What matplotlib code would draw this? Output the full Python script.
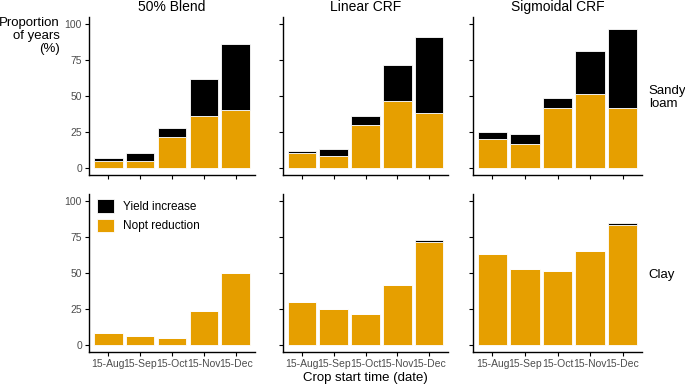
import matplotlib.pyplot as plt
import numpy as np

plt.rcParams['font.family'] = ['Liberation Sans', 'DejaVu Sans']

dates = ['15-Aug', '15-Sep', '15-Oct', '15-Nov', '15-Dec']
models = ['50% Blend', 'Linear CRF', 'Sigmoidal CRF']
soils = ['Sandy\nloam', 'Clay']

# orange part (Nopt reduction) and total height (with yield increase on top)
nopt = {
    ('Sandy\nloam', '50% Blend'): [5, 5, 21.6, 36.4, 40],
    ('Sandy\nloam', 'Linear CRF'): [10, 8.4, 30, 46.6, 38],
    ('Sandy\nloam', 'Sigmoidal CRF'): [20, 16.7, 41.5, 51.5, 41.5],
    ('Clay', '50% Blend'): [8.2, 6.3, 4.9, 23.3, 50],
    ('Clay', 'Linear CRF'): [29.8, 24.9, 21.4, 41.5, 71.6],
    ('Clay', 'Sigmoidal CRF'): [63.2, 53.1, 51.5, 65, 83.4],
}
total = {
    ('Sandy\nloam', '50% Blend'): [6.5, 10, 28, 61.5, 86.5],
    ('Sandy\nloam', 'Linear CRF'): [11.6, 13.2, 36.4, 71.5, 91.4],
    ('Sandy\nloam', 'Sigmoidal CRF'): [24.8, 23.2, 48.3, 81.4, 96.3],
    ('Clay', '50% Blend'): [8.2, 6.3, 4.9, 23.3, 50],
    ('Clay', 'Linear CRF'): [29.8, 24.9, 21.4, 41.5, 73.2],
    ('Clay', 'Sigmoidal CRF'): [63.2, 53.1, 51.5, 65, 85.1],
}

orange = '#E69F00'
grey = '#4D4D4D'

fig = plt.figure(figsize=(6.85, 3.85), dpi=100)
W, H = 685, 385
lefts = [89, 283, 473]
rights = [255, 448, 642]
tops = [17, 194]
bottoms = [175, 352]

x = np.arange(1, 6)
for r, soil in enumerate(soils):
    for c, model in enumerate(models):
        ax = fig.add_axes([lefts[c] / W, 1 - bottoms[r] / H,
                           (rights[c] - lefts[c]) / W, (bottoms[r] - tops[r]) / H])
        lo = np.array(nopt[(soil, model)])
        hi = np.array(total[(soil, model)])
        ax.bar(x, lo, width=0.9, color=orange, edgecolor='white', linewidth=0.6,
               label='Nopt reduction')
        ax.bar(x, hi - lo, bottom=lo, width=0.9, color='black', edgecolor='white',
               linewidth=0.6, label='Yield increase')
        ax.set_xlim(0.4, 5.6)
        ax.set_ylim(-5, 105)
        ax.set_yticks([0, 25, 50, 75, 100])
        ax.set_xticks(x)
        for s in ['top', 'right']:
            ax.spines[s].set_visible(False)
        for s in ['left', 'bottom']:
            ax.spines[s].set_linewidth(1.0)
        ax.tick_params(length=3, width=0.8, colors='black', labelcolor=grey,
                       labelsize=7.5, pad=2)
        if r == 0:
            ax.set_xticklabels([])
            ax.set_title(model, fontsize=10, pad=4)
        else:
            ax.set_xticklabels(dates)
        if c > 0:
            ax.set_yticklabels([])
        if c == 2:
            ax.text(1.04, 0.49, soil, transform=ax.transAxes, fontsize=9.5,
                    ha='left', va='center', linespacing=1.1)
        if r == 1 and c == 0:
            h, l = ax.get_legend_handles_labels()
            ax.legend(h[::-1], l[::-1], loc='upper left', frameon=False,
                      fontsize=8.5, handlelength=1.4, handleheight=1.4,
                      bbox_to_anchor=(0.0, 1.02), borderaxespad=0.3)
        if r == 1 and c == 1:
            ax.set_xlabel('Crop start time (date)', fontsize=9.5, labelpad=2)

fig.text(60 / W, 1 - 17 / H, 'Proportion\nof years\n(%)', ha='right', va='top',
         fontsize=9.5, linespacing=1.1)

fig.savefig('out.png', dpi=100)
